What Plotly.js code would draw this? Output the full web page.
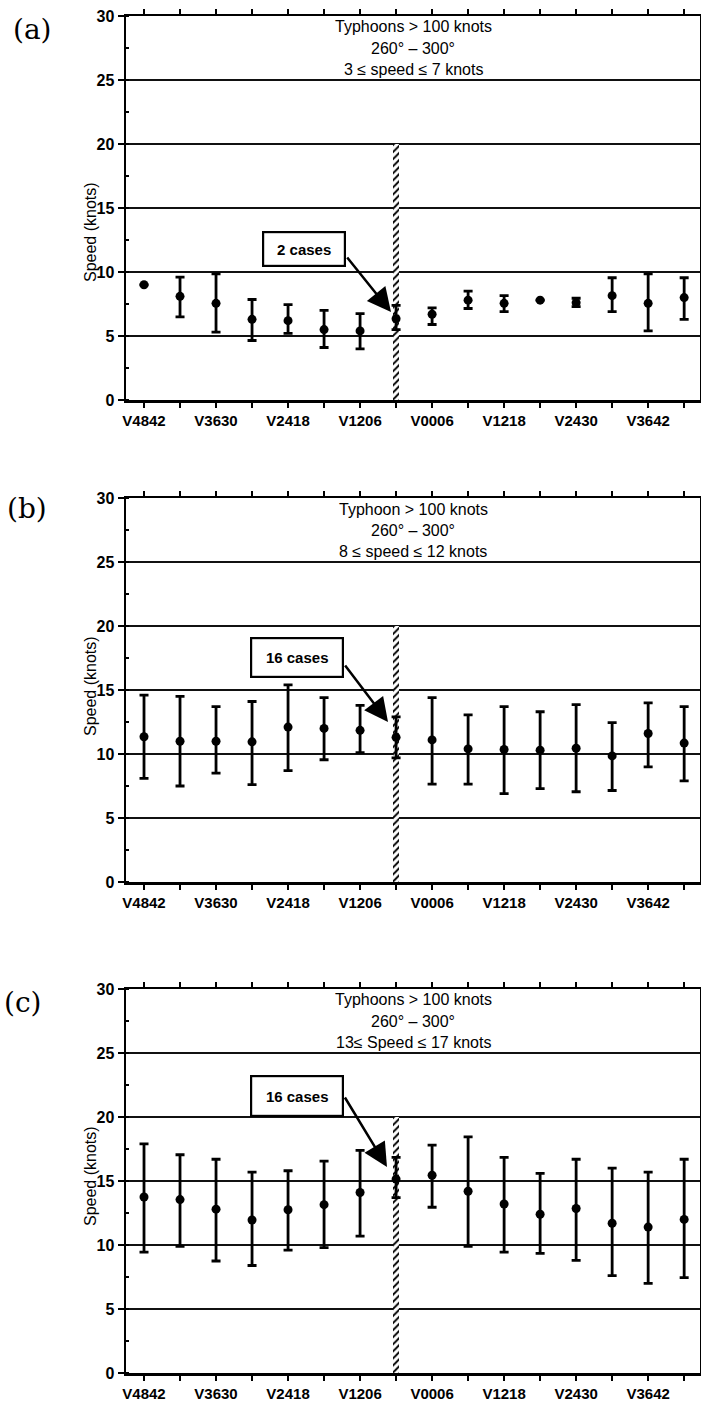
<!DOCTYPE html>
<html>
<head>
<meta charset="utf-8">
<script src="https://cdn.plot.ly/plotly-3.0.1.min.js"></script>
<style>
  html, body { margin: 0; padding: 0; background: #fff; }
  #chart { width: 701px; height: 1412px; }
</style>
</head>
<body>
<div id="chart"></div>
<script>
// Six-hour periods relative to recurvature (slot 7 is the period just before it)
const slots = [0, 1, 2, 3, 4, 5, 6, 7, 8, 9, 10, 11, 12, 13, 14, 15];
const tickLabels = ['V4842', '', 'V3630', '', 'V2418', '', 'V1206', '',
                    'V0006', '', 'V1218', '', 'V2430', '', 'V3642', ''];
const onsetSlot = 7;
const onsetTop = 20;

// (a) 3-7 knot movers
const meanA = [9.0, 8.1, 7.55, 6.3, 6.2, 5.5, 5.4, 6.35, 6.7, 7.8, 7.55, 7.8, 7.6, 8.15, 7.55, 8.0];
const highA = [9.0, 9.6, 9.85, 7.85, 7.45, 7.0, 6.75, 7.4, 7.2, 8.5, 8.15, 7.8, 7.95, 9.55, 9.85, 9.55];
const lowA  = [9.0, 6.5, 5.3, 4.65, 5.2, 4.1, 4.0, 5.5, 5.9, 7.15, 6.9, 7.8, 7.3, 6.9, 5.4, 6.3];

// (b) 8-12 knot movers
const meanB = [11.35, 11.0, 11.0, 10.95, 12.1, 12.0, 11.85, 11.3, 11.1, 10.4, 10.35, 10.3, 10.45, 9.85, 11.6, 10.85];
const highB = [14.6, 14.5, 13.7, 14.1, 15.4, 14.4, 13.8, 12.9, 14.4, 13.05, 13.7, 13.3, 13.85, 12.45, 14.0, 13.7];
const lowB  = [8.1, 7.5, 8.5, 7.6, 8.7, 9.55, 10.1, 9.7, 7.65, 7.65, 6.9, 7.3, 7.05, 7.15, 9.0, 7.9];

// (c) 13-17 knot movers
const meanC = [13.75, 13.55, 12.8, 11.95, 12.75, 13.15, 14.1, 15.15, 15.45, 14.2, 13.2, 12.4, 12.85, 11.7, 11.4, 12.0];
const highC = [17.9, 17.05, 16.7, 15.7, 15.8, 16.55, 17.4, 16.85, 17.8, 18.45, 16.85, 15.6, 16.7, 16.0, 15.7, 16.7];
const lowC  = [9.45, 9.9, 8.75, 8.4, 9.6, 9.8, 10.7, 13.7, 12.95, 9.9, 9.45, 9.35, 8.8, 7.6, 7.0, 7.45];

const panelLetters = ['(a)', '(b)', '(c)'];
const headerLines = [
  ['Typhoons > 100 knots', '260° – 300°', '3 ≤ speed ≤ 7 knots'],
  ['Typhoon > 100 knots', '260° – 300°', '8 ≤ speed ≤ 12 knots'],
  ['Typhoons > 100 knots', '260° – 300°', '13≤ Speed ≤ 17 knots']
];
const caseLabels = ['2 cases', '16 cases', '16 cases'];
const yTitle = 'Speed (knots)';

const series = [
  { mean: meanA, high: highA, low: lowA },
  { mean: meanB, high: highB, low: lowB },
  { mean: meanC, high: highC, low: lowC }
];

// ---- page geometry (pixels) ----
const W = 701, H = 1412;
const px = x => x / W;
const py = y => 1 - y / H;
const plotLeft = 126, plotRight = 700;
const panels = [
  { top: 16,  bottom: 400,  letterX: 11, letterY: 30,   titleY: 232,
    box: { cx: 304, cy: 249, w: 70, h: 22 },  tail: [346, 256],  tip: [391, 312] },
  { top: 498, bottom: 882,  letterX: 5,  letterY: 508,  titleY: 686,
    box: { cx: 297, cy: 657, w: 80, h: 27 },  tail: [344, 664],  tip: [388, 722] },
  { top: 989, bottom: 1373, letterX: 2,  letterY: 1002, titleY: 1176,
    box: { cx: 297, cy: 1096, w: 80, h: 28 }, tail: [344, 1096], tip: [387, 1167] }
];

const sans = 'Liberation Sans, Arial, Helvetica, sans-serif';
const traces = [];
const layout = {
  width: W, height: H,
  margin: { l: 0, r: 0, t: 0, b: 0 },
  paper_bgcolor: '#fff', plot_bgcolor: '#fff',
  showlegend: false,
  bargap: 0,
  annotations: []
};

panels.forEach((p, i) => {
  const k = i === 0 ? '' : String(i + 1);
  const xa = 'x' + k, ya = 'y' + k;
  const s = series[i];

  // hatched marker at the onset period
  traces.push({
    type: 'bar', xaxis: xa, yaxis: ya,
    x: [slots[onsetSlot]], y: [onsetTop], width: 0.17,
    marker: {
      color: '#fff', line: { width: 0 },
      pattern: { shape: '/', size: 5, solidity: 0.4, fgcolor: '#000', bgcolor: '#fff' }
    },
    hoverinfo: 'skip'
  });

  // mean speed with spread
  traces.push({
    type: 'scatter', mode: 'markers', xaxis: xa, yaxis: ya,
    x: slots, y: s.mean,
    marker: { color: '#000', size: 9, symbol: 'circle' },
    error_y: {
      type: 'data', symmetric: false,
      array: s.high.map((h, j) => h - s.mean[j]),
      arrayminus: s.low.map((l, j) => s.mean[j] - l),
      color: '#000', thickness: 2.8, width: 4.5
    }
  });

  layout['xaxis' + k] = {
    domain: [px(plotLeft), px(plotRight)],
    anchor: ya,
    range: [-0.5, 15.44],
    tickvals: slots, ticktext: tickLabels,
    ticks: 'outside', ticklen: 5, tickwidth: 1.5, tickcolor: '#000',
    showline: true, linecolor: '#000', linewidth: 2.5, mirror: 'ticks',
    showgrid: false, zeroline: false,
    tickfont: { family: sans, size: 15, color: '#000', weight: 'bold' },
    fixedrange: true
  };
  layout['yaxis' + k] = {
    domain: [py(p.bottom), py(p.top)],
    anchor: xa,
    range: [0, 30],
    tickvals: [0, 5, 10, 15, 20, 25, 30],
    ticks: 'outside', ticklen: 6, tickwidth: 1.5, tickcolor: '#000',
    minor: { dtick: 2.5, ticks: 'inside', ticklen: 3, tickcolor: '#000', tickwidth: 1.5, showgrid: false },
    showline: true, linecolor: '#000', linewidth: 2.5, mirror: true,
    showgrid: true, gridcolor: '#111', gridwidth: 1.5,
    zeroline: false,
    tickfont: { family: sans, size: 16, color: '#000', weight: 'bold' },
    fixedrange: true
  };

  const A = layout.annotations;
  // panel letter
  A.push({
    xref: 'paper', yref: 'paper', x: px(p.letterX), y: py(p.letterY),
    xanchor: 'left', yanchor: 'middle', showarrow: false,
    text: panelLetters[i],
    font: { family: 'DejaVu Serif, Liberation Serif, serif', size: 28, color: '#000' }
  });
  // header lines
  headerLines[i].forEach((line, j) => {
    A.push({
      xref: 'paper', yref: 'paper', x: px(413), y: py(p.top + 11 + j * 21),
      xanchor: 'center', yanchor: 'middle', showarrow: false,
      text: line,
      font: { family: sans, size: 16, color: '#000' }
    });
  });
  // y-axis title
  A.push({
    xref: 'paper', yref: 'paper', x: px(90), y: py(p.titleY),
    xanchor: 'center', yanchor: 'middle', showarrow: false, textangle: -90,
    text: yTitle,
    font: { family: sans, size: 16, color: '#000' }
  });
  // case count box
  A.push({
    xref: 'paper', yref: 'paper', x: px(p.box.cx), y: py(p.box.cy),
    xanchor: 'center', yanchor: 'middle', showarrow: false,
    text: caseLabels[i], width: p.box.w, height: p.box.h,
    bgcolor: '#fff', bordercolor: '#000', borderwidth: 2.2, borderpad: 5,
    font: { family: sans, size: 15, color: '#000', weight: 'bold' }
  });
  // arrow from the box to the onset point
  A.push({
    xref: 'paper', yref: 'paper', x: px(p.tip[0]), y: py(p.tip[1]),
    text: '', showarrow: true,
    ax: p.tail[0] - p.tip[0], ay: p.tail[1] - p.tip[1],
    arrowhead: 2, arrowsize: 1.9, arrowwidth: 2.5, arrowcolor: '#000',
    standoff: 0, startstandoff: 0
  });
});

Plotly.newPlot('chart', traces, layout, { displayModeBar: false, staticPlot: true });
</script>
</body>
</html>
